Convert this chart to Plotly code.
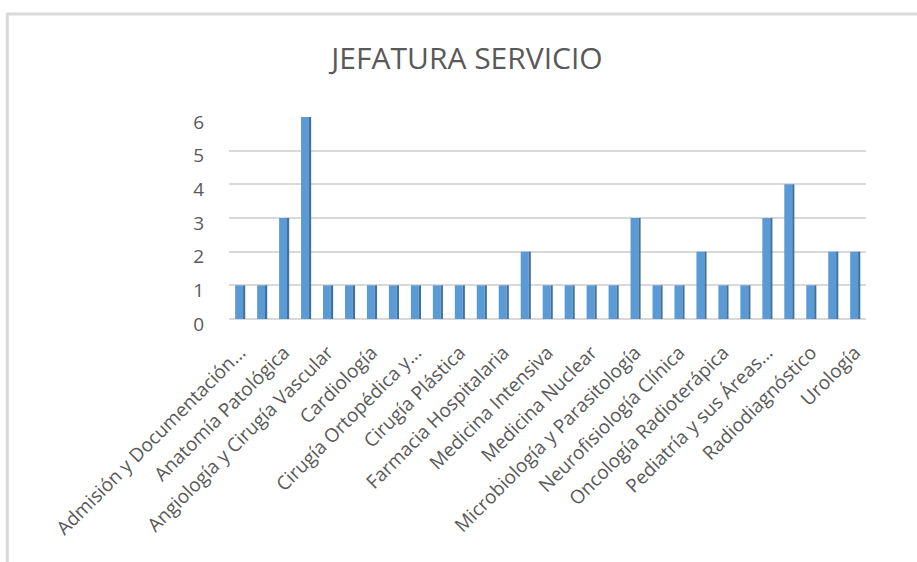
import plotly.graph_objects as go

# Number of department heads per medical service
values = [1, 1, 3, 6, 1, 1, 1, 1, 1, 1, 1, 1, 1, 2, 1,
          1, 1, 1, 3, 1, 1, 2, 1, 1, 3, 4, 1, 2, 2]

# Only every other service name is shown on the axis
tick_labels = [
    "Admisión y Documentación...",
    "Anatomía Patológica",
    "Angiología y Cirugía Vascular",
    "Cardiología",
    "Cirugía Ortopédica y...",
    "Cirugía Plástica",
    "Farmacia Hospitalaria",
    "Medicina Intensiva",
    "Medicina Nuclear",
    "Microbiología y Parasitología",
    "Neurofisiología Clínica",
    "Oncología Radioterápica",
    "Pediatría y sus Áreas...",
    "Radiodiagnóstico",
    "Urología",
]
y_ticks = [0, 1, 2, 3, 4, 5, 6]

positions = list(range(len(values)))
FONT = "Open Sans"
GREY = "#595959"

fig = go.Figure()
# front face of each column
fig.add_trace(go.Bar(
    x=positions, y=values, width=0.36, offset=-0.22,
    marker=dict(color="#5B9BD5", line=dict(width=0)),
    hoverinfo="x+y", showlegend=False,
))
# darker side face for the 3-D look
fig.add_trace(go.Bar(
    x=positions, y=values, width=0.1, offset=0.14,
    marker=dict(color="#41719C", line=dict(width=0)),
    hoverinfo="skip", showlegend=False,
))

# light grey frame around the chart area
L, T = -0.348, 1.51
fig.add_shape(type="path", xref="paper", yref="paper",
              path=f"M {L},-1.3 L {L},{T} L 1.2,{T}",
              line=dict(color="#D9D9D9", width=3))

fig.update_layout(
    width=917, height=562,
    margin=dict(l=229, r=51, t=117, b=243),
    paper_bgcolor="white", plot_bgcolor="white",
    barmode="overlay",
    title=dict(text="JEFATURA SERVICIO", x=467 / 917, xanchor="center",
               y=1 - 58 / 562, yanchor="middle",
               font=dict(family=FONT, size=30, color=GREY)),
    font=dict(family=FONT, color=GREY),
    xaxis=dict(
        range=[-0.5, len(values) - 0.5],
        tickvals=positions[::2], ticktext=tick_labels,
        tickangle=-45, tickfont=dict(size=19, color=GREY),
        ticks="outside", ticklen=14, tickcolor="rgba(0,0,0,0)",
        showgrid=False, zeroline=False, showline=False,
    ),
    yaxis=dict(
        range=[0, 6], tickvals=y_ticks,
        tickfont=dict(size=19, color=GREY),
        ticklabelshift=5,
        showgrid=True, gridcolor="#D9D9D9", gridwidth=1.5,
        zeroline=True, zerolinecolor="#D9D9D9", zerolinewidth=1.5,
        showline=False, ticks="outside", ticklen=20,
        tickcolor="rgba(0,0,0,0)",
    ),
)

fig.write_html("out.html")
